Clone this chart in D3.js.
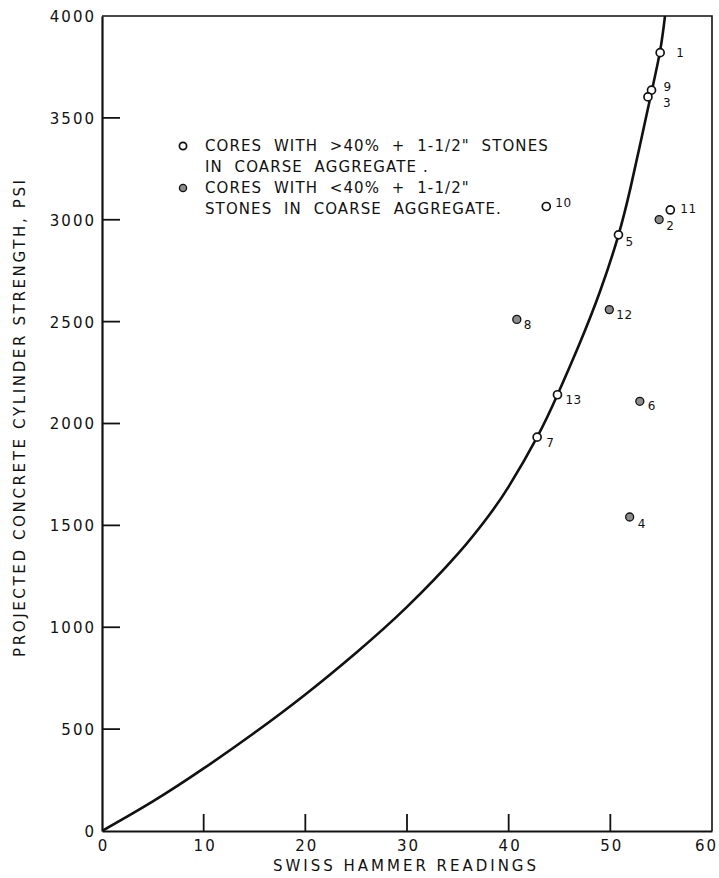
<!DOCTYPE html>
<html>
<head>
<meta charset="utf-8">
<script src="https://cdn.jsdelivr.net/npm/d3@7"></script>
<style>
  html, body { margin: 0; padding: 0; background: #fff; }
  svg { display: block; }
  text { font-family: "DejaVu Sans", sans-serif; fill: #111; }
</style>
</head>
<body>
<svg id="chart" width="719" height="878"></svg>
<script>
// ---- data ----
const xTicks = [0, 10, 20, 30, 40, 50, 60];
const yTicks = [0, 500, 1000, 1500, 2000, 2500, 3000, 3500, 4000];

// calibration curve
const curveHammer = [0, 5, 10, 15, 20, 25, 30, 35, 38, 40, 42.8, 44.8, 47, 49, 50.8, 52, 53, 54, 54.9, 55.4];
const curvePsi    = [0, 145, 307, 482, 670, 875, 1100, 1360, 1545, 1690, 1933, 2141, 2395, 2650, 2925, 3160, 3385, 3615, 3830, 4010];

// cores
const coreIds    = ["1", "9", "3", "10", "11", "2", "5", "12", "8", "13", "6", "7", "4"];
const coreHammer = [54.9, 54.05, 53.7, 43.7, 55.9, 54.8, 50.8, 49.9, 40.8, 44.8, 52.9, 42.8, 51.9];
const corePsi    = [3820, 3636, 3603, 3065, 3048, 3001, 2926, 2559, 2511, 2141, 2109, 1933, 1541];
const coreType   = ["open", "open", "open", "open", "open", "filled", "open", "filled", "filled", "open", "filled", "open", "filled"];

const legendLines = [
  ['CORES  WITH  >40%  +  1-1/2"  STONES', 'IN  COARSE  AGGREGATE .'],
  ['CORES  WITH  <40%  +  1-1/2"', 'STONES  IN  COARSE  AGGREGATE.']
];
const legendTypes = ["open", "filled"];

const xTitle = "SWISS  HAMMER  READINGS";
const yTitle = "PROJECTED  CONCRETE  CYLINDER  STRENGTH,  PSI";

// ---- layout ----
const plotL = 102, plotR = 712, plotT = 16, plotB = 831;
const svg = d3.select("#chart");
const x = d3.scaleLinear().domain([0, 60]).range([plotL, plotR]);
const y = d3.scaleLinear().domain([0, 4000]).range([plotB, plotT]);

const ink = "#111";

// frame (top and right sides)
svg.append("path")
  .attr("d", `M${plotL},${plotT}H${plotR}V${plotB}`)
  .attr("fill", "none").attr("stroke", ink).attr("stroke-width", 1.6);

// axes with inward ticks
const yAxis = d3.axisLeft(y).tickValues(yTicks).tickSize(0).tickPadding(8).tickFormat(d3.format("d"));
const gy = svg.append("g").attr("transform", `translate(${plotL},0)`).call(yAxis);
gy.select(".domain").attr("stroke", ink).attr("stroke-width", 2.2);
gy.selectAll(".tick text").attr("font-size", 15).attr("letter-spacing", 2).attr("dx", 2).attr("dy", "0.36em").attr("fill", ink).attr("font-family", '"DejaVu Sans", sans-serif');
svg.append("g").selectAll("line").data(yTicks.filter(d => d > 0 && d < 4000)).join("line")
  .attr("x1", plotL).attr("x2", plotL + 18).attr("y1", d => y(d)).attr("y2", d => y(d))
  .attr("stroke", ink).attr("stroke-width", 1.8);

const xAxis = d3.axisBottom(x).tickValues(xTicks).tickSize(0).tickPadding(6).tickFormat(d3.format("d"));
const gx = svg.append("g").attr("transform", `translate(0,${plotB})`).call(xAxis);
gx.select(".domain").attr("stroke", ink).attr("stroke-width", 2.2);
gx.selectAll(".tick text").attr("font-size", 15).attr("letter-spacing", 2).attr("dx", d => d === 60 ? -6 : 1).attr("dy", "0.9em").attr("fill", ink).attr("font-family", '"DejaVu Sans", sans-serif');
svg.append("g").selectAll("line").data(xTicks.filter(d => d > 0 && d < 60)).join("line")
  .attr("x1", d => x(d)).attr("x2", d => x(d)).attr("y1", plotB).attr("y2", plotB - 17)
  .attr("stroke", ink).attr("stroke-width", 1.8);

// axis titles
svg.append("text").attr("x", 273).attr("y", 871)
  .attr("font-size", 15).attr("textLength", 263).attr("lengthAdjust", "spacing")
  .text(xTitle);
svg.append("text").attr("transform", `translate(25,657) rotate(-90)`)
  .attr("font-size", 15).attr("textLength", 477).attr("lengthAdjust", "spacing")
  .text(yTitle);

// curve
svg.append("clipPath").attr("id", "clip").append("rect")
  .attr("x", plotL).attr("y", plotT).attr("width", plotR - plotL).attr("height", plotB - plotT);
const line = d3.line().x(d => x(d[0])).y(d => y(d[1])).curve(d3.curveNatural);
svg.append("path")
  .datum(curveHammer.map((h, i) => [h, curvePsi[i]]))
  .attr("clip-path", "url(#clip)")
  .attr("d", line).attr("fill", "none").attr("stroke", ink).attr("stroke-width", 2.6);

// markers
function marker(sel, type, r) {
  sel.attr("r", r)
    .attr("fill", type === "open" ? "#fff" : "#8c8c8c")
    .attr("stroke", ink)
    .attr("stroke-width", type === "open" ? 1.7 : 1.3);
}

const labelOffset = {
  "1": [16, 4], "9": [12, 1], "3": [15, 10], "10": [9, 0], "11": [10, 3], "2": [7, 10],
  "5": [7, 11], "12": [7, 9], "8": [7, 10], "13": [8, 9], "6": [8, 9], "7": [9, 10], "4": [8, 11]
};

const cores = coreIds.map((id, i) => ({ id, h: coreHammer[i], p: corePsi[i], t: coreType[i] }));
const cg = svg.append("g").selectAll("g").data(cores).join("g");
cg.append("circle").attr("cx", d => x(d.h)).attr("cy", d => y(d.p)).each(function(d) { marker(d3.select(this), d.t, 4); });
cg.append("text")
  .attr("x", d => x(d.h) + labelOffset[d.id][0])
  .attr("y", d => y(d.p) + labelOffset[d.id][1])
  .attr("font-size", 12).attr("letter-spacing", 0.5)
  .text(d => d.id);

// legend
const lg = svg.append("g");
legendTypes.forEach((t, i) => {
  const baseY = 151 + i * 42;
  marker(lg.append("circle").attr("cx", 183).attr("cy", baseY - 5), t, 3.6);
  legendLines[i].forEach((s, j) => {
    lg.append("text").attr("x", 205).attr("y", baseY + j * 21)
      .attr("font-size", 15).attr("letter-spacing", 1.1)
      .attr("style", "white-space: pre")
      .text(s);
  });
});
</script>
</body>
</html>
